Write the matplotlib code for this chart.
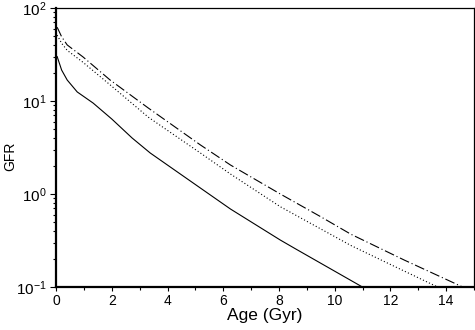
import matplotlib
matplotlib.use("Agg")
import matplotlib.pyplot as plt
from matplotlib.ticker import LogLocator, MultipleLocator, NullFormatter

plt.rcParams['font.family'] = ['Liberation Sans', 'DejaVu Sans']
plt.rcParams['mathtext.fontset'] = 'custom'
plt.rcParams['mathtext.rm'] = 'Liberation Sans'
plt.rcParams['mathtext.it'] = 'Liberation Sans'

# Solid curve
age_solid = [0.04, 0.20, 0.40, 0.76, 1.33, 2.0, 2.73, 3.38, 5.18, 6.26, 8.05, 8.6, 11.0]
gfr_solid = [30, 21.5, 16.8, 12.5, 9.5, 6.4, 4.0, 2.76, 1.16, 0.69, 0.32, 0.257, 0.1]

# Dotted curve
age_dotted = [0.04, 0.20, 0.40, 0.97, 1.94, 3.31, 5.18, 6.26, 8.05, 10.58, 12.0, 13.7]
gfr_dotted = [51, 41.7, 35, 26, 14.9, 6.7, 2.76, 1.64, 0.73, 0.28, 0.175, 0.1]

# Dash-dot curve
age_dashdot = [0.04, 0.20, 0.40, 0.97, 1.94, 3.31, 5.18, 6.26, 8.05, 9.5, 10.58, 12.5, 14.6]
gfr_dashdot = [62, 49, 40, 29.7, 16.8, 8.4, 3.37, 2.05, 1.0, 0.57, 0.37, 0.195, 0.1]

fig = plt.figure(figsize=(4.75, 3.3), dpi=100)
ax = fig.add_axes([0.118, 0.130, 0.880, 0.846])

lw = 0.8
ax.plot(age_solid, gfr_solid, color='black', lw=lw, ls='-')
ax.plot(age_dotted, gfr_dotted, color='black', lw=lw, ls=(0, (1, 2)))
ax.plot(age_dashdot, gfr_dashdot, color='black', lw=lw, ls=(0, (9, 2.5, 1, 2.5)))

ax.set_yscale('log')
ax.set_xlim(0, 15)
ax.set_ylim(0.1, 100)

ax.xaxis.set_major_locator(MultipleLocator(2))
ax.xaxis.set_minor_locator(MultipleLocator(1))
ax.yaxis.set_major_locator(LogLocator(base=10, numticks=10))
ax.yaxis.set_minor_locator(LogLocator(base=10, subs=range(2, 10), numticks=10))
ax.yaxis.set_minor_formatter(NullFormatter())

ax.tick_params(axis='both', which='major', direction='out', length=4, width=0.8,
               top=False, right=False, pad=2)
ax.tick_params(axis='both', which='minor', direction='out', length=2.5, width=0.8,
               top=False, right=False)
ax.tick_params(axis='x', which='major', length=3, labelsize=10)
ax.tick_params(axis='y', which='major', labelsize=11, pad=3)

ax.spines['left'].set_linewidth(1.6)
ax.spines['bottom'].set_linewidth(1.6)
ax.spines['top'].set_linewidth(0.9)
ax.spines['right'].set_linewidth(0.9)

ax.set_xlabel('Age (Gyr)', fontsize=12.5, labelpad=0)
ax.set_ylabel('GFR', fontsize=10)
ax.yaxis.set_label_coords(-0.094, 0.47)

fig.savefig('out.png', dpi=100)
